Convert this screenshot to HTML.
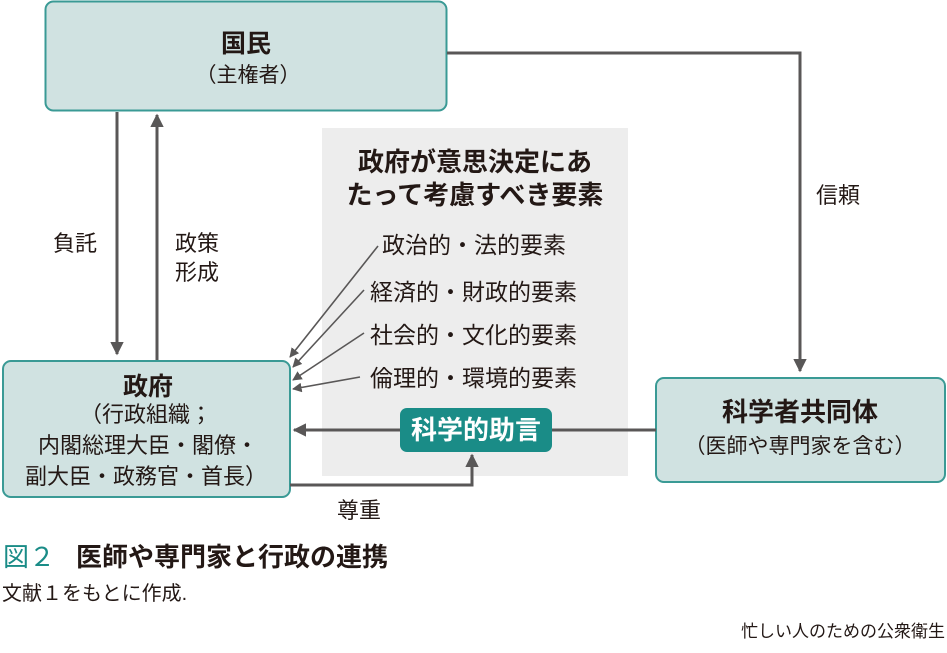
<!DOCTYPE html>
<html><head><meta charset="utf-8"><style>
html,body{margin:0;padding:0;background:#fff;}
svg text{font-family:"Liberation Sans","Noto Sans CJK JP",sans-serif;fill:#231815;}
</style></head><body>
<svg width="947" height="648" viewBox="0 0 947 648" xmlns="http://www.w3.org/2000/svg">
<defs>
<marker id="a" viewBox="0 0 10 10" refX="9" refY="5" markerWidth="4.5" markerHeight="4.5" orient="auto"><path d="M0,0L10,5L0,10z" fill="#595757"/></marker>
<marker id="b" viewBox="0 0 10 10" refX="9" refY="5" markerWidth="6" markerHeight="6" orient="auto"><path d="M0,0L10,5L0,10z" fill="#595757"/></marker>
</defs>
<rect x="322" y="128" width="306" height="348" fill="#ededed"/>
<rect x="45.5" y="1.5" width="401" height="109" rx="8" fill="#d0e2e1" stroke="#3a9a95" stroke-width="2"/>
<rect x="3" y="361" width="287" height="136" rx="8" fill="#d0e2e1" stroke="#3a9a95" stroke-width="2"/>
<rect x="656" y="378" width="289" height="104" rx="8" fill="#d0e2e1" stroke="#3a9a95" stroke-width="2"/>
<g stroke="#595757" stroke-width="3" fill="none">
<line x1="117" y1="112" x2="117" y2="354" marker-end="url(#a)"/>
<line x1="157" y1="360" x2="157" y2="115" marker-end="url(#a)"/>
<polyline points="447,53 800,53 800,371" marker-end="url(#a)"/>
<line x1="656" y1="430" x2="294" y2="430" marker-end="url(#a)"/>
<polyline points="290,485 472,485 472,455" marker-end="url(#a)"/>
</g>
<g stroke="#595757" stroke-width="1.6" fill="none">
<line x1="378" y1="246" x2="290" y2="357" marker-end="url(#b)"/>
<line x1="364" y1="290" x2="293" y2="367" marker-end="url(#b)"/>
<line x1="364" y1="333" x2="293" y2="380" marker-end="url(#b)"/>
<line x1="360" y1="377" x2="293" y2="389" marker-end="url(#b)"/>
</g>
<rect x="400" y="408" width="152" height="44" rx="7" fill="#1a8c87"/>
<text x="476" y="439" text-anchor="middle" font-size="26" font-weight="bold" style="fill:#fff">科学的助言</text>
<text x="246" y="52" text-anchor="middle" font-size="25" font-weight="bold">国民</text>
<text x="248" y="82" text-anchor="middle" font-size="21">（主権者）</text>
<text x="53" y="251" font-size="22">負託</text>
<text x="175" y="251" font-size="22">政策</text>
<text x="175" y="280" font-size="22">形成</text>
<text x="816" y="203" font-size="22">信頼</text>
<text x="475" y="171" text-anchor="middle" font-size="26" font-weight="bold">政府が意思決定にあ</text>
<text x="475" y="204" text-anchor="middle" font-size="26" font-weight="bold">たって考慮すべき要素</text>
<text x="382" y="253" font-size="23">政治的・法的要素</text>
<text x="370" y="300" font-size="23">経済的・財政的要素</text>
<text x="370" y="343" font-size="23">社会的・文化的要素</text>
<text x="370" y="386" font-size="23">倫理的・環境的要素</text>
<text x="148" y="395" text-anchor="middle" font-size="25" font-weight="bold">政府</text>
<text x="146" y="422" text-anchor="middle" font-size="22">（行政組織；</text>
<text x="148" y="453" text-anchor="middle" font-size="22">内閣総理大臣・閣僚・</text>
<text x="146" y="484" text-anchor="middle" font-size="22">副大臣・政務官・首長）</text>
<text x="800" y="421" text-anchor="middle" font-size="26" font-weight="bold">科学者共同体</text>
<text x="800" y="453" text-anchor="middle" font-size="21">（医師や専門家を含む）</text>
<text x="337" y="518" font-size="22">尊重</text>
<text x="3" y="566" font-size="26" style="fill:#1a8c87">図２</text>
<text x="76" y="566" font-size="26" font-weight="bold">医師や専門家と行政の連携</text>
<text x="2" y="600" font-size="20">文献１をもとに作成.</text>
<text x="945" y="637" text-anchor="end" font-size="17">忙しい人のための公衆衛生</text>
</svg>
</body></html>
